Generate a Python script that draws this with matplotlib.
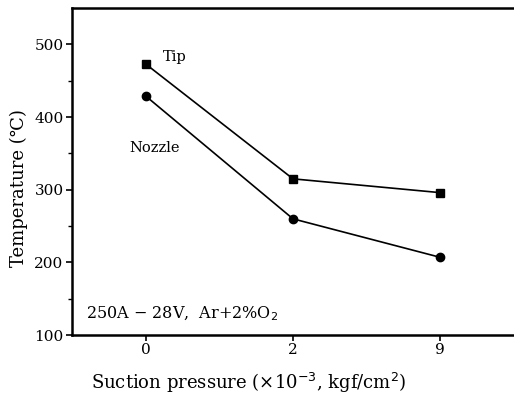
import matplotlib.pyplot as plt

plt.rcParams['font.family'] = ['DejaVu Serif']

# data
pressures = ['0', '2', '9']
tip_temp = [473, 315, 296]
nozzle_temp = [429, 260, 207]

fig = plt.figure(figsize=(5.14, 3.99), dpi=100)
ax = fig.add_axes([0.140, 0.160, 0.860, 0.820])

x = range(len(pressures))
ax.plot(x, tip_temp, color='black', lw=1.2, marker='s', ms=6)
ax.plot(x, nozzle_temp, color='black', lw=1.2, marker='o', ms=6)

ax.set_xlim(-0.5, 2.5)
ax.set_ylim(100, 550)
ax.set_xticks(list(x))
ax.set_xticklabels(pressures)
ax.set_yticks([100, 200, 300, 400, 500])
ax.set_yticks([150, 250, 350, 450], minor=True)
ax.tick_params(labelsize=11, length=4, width=1.2, pad=2)
ax.tick_params(which='minor', length=3, width=1)

ax.spines['right'].set_visible(False)
for s in ['left', 'bottom', 'top']:
    ax.spines[s].set_linewidth(1.8)

ax.text(0.12, 482, 'Tip', fontsize=10.5, va='center')
ax.text(0.06, 357, 'Nozzle', fontsize=10.5, ha='center', va='center')
ax.text(-0.405, 130, '250A − 28V,  Ar+2%O$_2$', fontsize=11.5, va='center')

ax.set_xlabel('Suction pressure (×10$^{-3}$, kgf/cm$^2$)', fontsize=13)
ax.set_ylabel('Temperature (℃)', fontsize=13)
ax.xaxis.set_label_coords(0.40, -0.11)
ax.yaxis.set_label_coords(-0.099, 0.45)

plt.savefig('out.png', dpi=100)
